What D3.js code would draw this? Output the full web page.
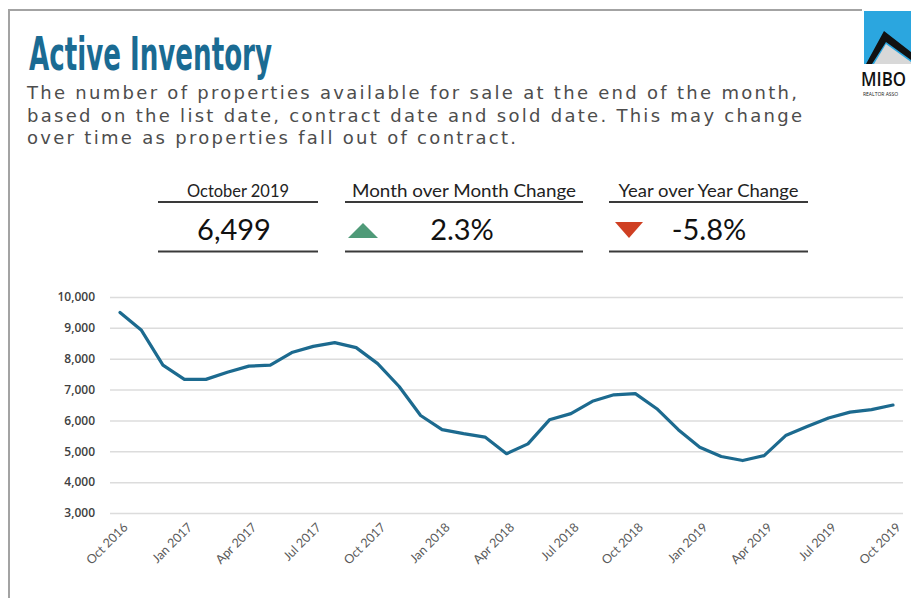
<!DOCTYPE html>
<html>
<head>
<meta charset="utf-8">
<script src="https://cdn.jsdelivr.net/npm/d3@7"></script>
<style>
  html, body { margin: 0; padding: 0; background: #fff; }
  #chart { width: 911px; height: 598px; }
</style>
</head>
<body>
<div id="chart"></div>
<script>
// month categories, one per data point
const months = [
    "Oct 2016", "Nov 2016", "Dec 2016",
    "Jan 2017", "Feb 2017", "Mar 2017", "Apr 2017", "May 2017", "Jun 2017",
    "Jul 2017", "Aug 2017", "Sep 2017", "Oct 2017", "Nov 2017", "Dec 2017",
    "Jan 2018", "Feb 2018", "Mar 2018", "Apr 2018", "May 2018", "Jun 2018",
    "Jul 2018", "Aug 2018", "Sep 2018", "Oct 2018", "Nov 2018", "Dec 2018",
    "Jan 2019", "Feb 2019", "Mar 2019", "Apr 2019", "May 2019", "Jun 2019",
    "Jul 2019", "Aug 2019", "Sep 2019", "Oct 2019"
];

const inventory = [
    9500, 8920, 7790,
    7330, 7330, 7560, 7760, 7790, 8200,
    8400, 8520, 8360, 7840, 7100, 6160,
    5700, 5570, 5460, 4920, 5240, 6020,
    6220, 6620, 6830, 6870, 6380, 5700,
    5130, 4830, 4700, 4860, 5510, 5800,
    6080, 6270, 6350, 6499
];

const xTickLabels = [
    "Oct 2016", "Jan 2017", "Apr 2017", "Jul 2017", "Oct 2017", "Jan 2018", "Apr 2018",
    "Jul 2018", "Oct 2018", "Jan 2019", "Apr 2019", "Jul 2019", "Oct 2019"
];

const yTickValues = [3000, 4000, 5000, 6000, 7000, 8000, 9000, 10000];

const subtitleLines = [
    "The number of properties available for sale at the end of the month,",
    "based on the list date, contract date and sold date. This may change",
    "over time as properties fall out of contract."
];

const statLabels = ["October 2019", "Month over Month Change", "Year over Year Change"];
const statValues = ["6,499", "2.3%", "-5.8%"];
const statArrows = [null, "up", "down"];

const theme = {
    colors: {
        title: "#1a6b93",
        subtitle: "#4d4d4d",
        line: "#1c6a8f",
        grid: "#dcdcdc",
        axis: "#404040",
        tick: "#5a5a5a",
        rule: "#3a3a3a",
        up: "#4f9a78",
        down: "#cf3f22",
        frame: "#a3a3a3",
        logo: "#2ba6df"
    },
    fonts: {
        title: "'Liberation Sans Narrow', 'DejaVu Sans Condensed', 'Roboto', sans-serif",
        body: "'Open Sans', 'DejaVu Sans', sans-serif",
        sub: "'DejaVu Sans', 'Liberation Sans', sans-serif",
        stat: "Lato, 'Open Sans', sans-serif"
    }
};

const svg = d3.select("#chart").append("svg")
    .attr("width", 911)
    .attr("height", 598)
    .style("font-family", theme.fonts.stat);

// frame
svg.append("path")
    .attr("d", "M9,598 L9,10 L862,10")
    .attr("fill", "none")
    .attr("stroke", theme.colors.frame)
    .attr("stroke-width", 2);

// logo (cropped at the right edge, as in the source)
const logo = svg.append("g");
logo.append("rect")
    .attr("x", 864).attr("y", 11)
    .attr("width", 47).attr("height", 53)
    .attr("fill", theme.colors.logo);
logo.append("path")
    .attr("d", "M866,64 L884,31 L911,52 L911,60 L886,42 L872,64 Z")
    .attr("fill", "#111");
logo.append("path")
    .attr("d", "M874,64 L886,44 L911,62 L911,64 Z")
    .attr("fill", "#d8d8d8");
logo.append("text")
    .attr("x", 861).attr("y", 86)
    .attr("textLength", 45)
    .attr("lengthAdjust", "spacingAndGlyphs")
    .style("font-family", theme.fonts.body)
    .style("font-size", "20px")
    .style("font-weight", "600")
    .attr("fill", "#111")
    .text("MIBO");
logo.append("text")
    .attr("x", 863).attr("y", 96)
    .style("font-family", theme.fonts.body)
    .style("font-size", "5px")
    .attr("fill", "#222")
    .text("REALTOR ASSO");

// title and description
svg.append("text")
    .attr("x", 29).attr("y", 70)
    .attr("textLength", 243)
    .attr("lengthAdjust", "spacingAndGlyphs")
    .style("font-family", theme.fonts.title)
    .style("font-size", "47px")
    .style("font-weight", "bold")
    .attr("fill", theme.colors.title)
    .text("Active Inventory");

const subtitleWidths = [770, 775, 489];
svg.append("g").selectAll("text")
    .data(subtitleLines)
    .join("text")
    .attr("x", 27)
    .attr("y", (d, i) => 99 + i * 22.5)
    .attr("textLength", (d, i) => subtitleWidths[i])
    .attr("lengthAdjust", "spacing")
    .style("font-family", theme.fonts.sub)
    .style("font-size", "18px")
    .attr("fill", theme.colors.subtitle)
    .text(d => d);

// stat boxes
const boxes = [
    { x0: 158, x1: 318, labelW: 102 },
    { x0: 345, x1: 583, labelW: 224 },
    { x0: 609, x1: 808, labelW: 180 }
];
const valueCenters = [234, 462, 709];

const stats = svg.append("g").selectAll("g")
    .data(statLabels)
    .join("g");

stats.append("text")
    .attr("x", (d, i) => (boxes[i].x0 + boxes[i].x1) / 2)
    .attr("y", 197)
    .attr("text-anchor", "middle")
    .attr("textLength", (d, i) => boxes[i].labelW)
    .attr("lengthAdjust", "spacingAndGlyphs")
    .style("font-size", "17px")
    .attr("fill", "#222")
    .text(d => d);

stats.append("line")
    .attr("x1", (d, i) => boxes[i].x0)
    .attr("x2", (d, i) => boxes[i].x1)
    .attr("y1", 202).attr("y2", 202)
    .attr("stroke", theme.colors.rule)
    .attr("stroke-width", 2);

stats.append("line")
    .attr("x1", (d, i) => boxes[i].x0)
    .attr("x2", (d, i) => boxes[i].x1)
    .attr("y1", 251.5).attr("y2", 251.5)
    .attr("stroke", theme.colors.rule)
    .attr("stroke-width", 2);

stats.append("text")
    .attr("x", (d, i) => valueCenters[i])
    .attr("y", 240)
    .attr("text-anchor", "middle")
    .style("font-size", "29px")
    .attr("fill", "#111")
    .text((d, i) => statValues[i]);

stats.filter((d, i) => statArrows[i] === "up")
    .append("path")
    .attr("d", "M348,238 L363,223 L378,238 Z")
    .attr("fill", theme.colors.up);

stats.filter((d, i) => statArrows[i] === "down")
    .append("path")
    .attr("d", "M615,222 L643,222 L629,238 Z")
    .attr("fill", theme.colors.down);

// chart
const plot = { left: 110, right: 903, top: 297, bottom: 513 };

const x = d3.scalePoint()
    .domain(months)
    .range([120, 893]);

const y = d3.scaleLinear()
    .domain([3000, 10000])
    .range([plot.bottom, plot.top]);

const yAxis = svg.append("g")
    .attr("transform", `translate(${plot.left},0)`)
    .call(d3.axisLeft(y)
        .tickValues(yTickValues)
        .tickSize(-(plot.right - plot.left))
        .tickPadding(15)
        .tickFormat(d3.format(",")));

yAxis.select(".domain").remove();
yAxis.selectAll(".tick line")
    .attr("stroke", theme.colors.grid)
    .attr("stroke-width", 1.5);
yAxis.selectAll(".tick text")
    .style("font-family", theme.fonts.body)
    .style("font-size", "12px")
    .style("font-weight", "600")
    .attr("fill", theme.colors.axis);

const xAxis = svg.append("g")
    .attr("transform", `translate(0,${plot.bottom})`)
    .call(d3.axisBottom(x)
        .tickValues(xTickLabels)
        .tickSize(0));

xAxis.select(".domain").remove();
xAxis.selectAll(".tick text")
    .attr("x", 0)
    .attr("y", 0)
    .attr("dy", "0.35em")
    .attr("text-anchor", "end")
    .attr("transform", "translate(5,12) rotate(-45)")
    .style("font-family", theme.fonts.stat)
    .style("font-size", "12.5px")
    .attr("fill", theme.colors.tick);

const line = d3.line()
    .x((d, i) => x(months[i]))
    .y(d => y(d));

svg.append("path")
    .datum(inventory)
    .attr("d", line)
    .attr("fill", "none")
    .attr("stroke", theme.colors.line)
    .attr("stroke-width", 3.2)
    .attr("stroke-linejoin", "round")
    .attr("stroke-linecap", "round");
</script>
</body>
</html>
